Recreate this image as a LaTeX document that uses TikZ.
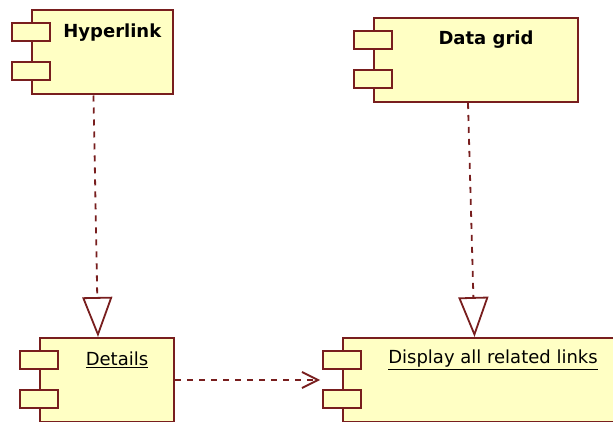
\documentclass[tikz,border=0pt]{standalone}
\usepackage{fontspec}
\setmainfont{DejaVu Sans}
\usetikzlibrary{arrows.meta}

\definecolor{compline}{RGB}{120,30,30}
\definecolor{compfill}{RGB}{255,255,196}

\begin{document}
\begin{tikzpicture}[x=1pt,y=1pt,yscale=-1,
  comp/.style={draw=compline,fill=compfill,line width=2pt,minimum height=84pt,inner sep=0pt,anchor=north west},
  port/.style={draw=compline,fill=compfill,line width=2pt},
  dep/.style={draw=compline,line width=1.8pt,dash pattern={on 6pt off 6pt}},
  compname/.style={font=\fontsize{18}{20}\selectfont,inner sep=0.75pt}]
%set diagram left start at 0, and has height of 422
\useasboundingbox (0,0) rectangle (613,422);
\clip (0,0) rectangle (613,422);

%Shape: Component boxes
\node[comp,minimum width=141pt] (hyperlink) at (31,9.5) {};
\node[comp,minimum width=204pt] (datagrid) at (373,17) {};
\node[comp,minimum width=134pt] (details) at (39,337) {};
\node[comp,minimum width=276pt] (display) at (342,337) {};

%Shape: Component ports
\foreach \c in {hyperlink,datagrid,details,display} {
  \draw[port] ([xshift=-19pt,yshift=14pt]\c.north west) rectangle ++(38,18);
  \draw[port] ([xshift=-19pt,yshift=53pt]\c.north west) rectangle ++(38,18);
}

% Text Node
\node[compname] (hyperlinktext) at ([xshift=10pt,yshift=23.5pt]hyperlink.north) {\textbf{Hyperlink}};
% Text Node
\node[compname] (datagridtext) at ([xshift=10pt,yshift=23pt]datagrid.north) {\textbf{Data grid}};
% Text Node
\node[compname] (detailstext) at ([xshift=10pt,yshift=23pt]details.north) {\underline{Details}};
% Text Node
\node[compname] (displaytext) at ([xshift=12pt,yshift=23pt]display.north) {\underline{Display all related links}};

%Straight Lines: realizations
\draw[dep,-{Triangle[open,length=40pt,width=30pt]}] ([xshift=-9pt]hyperlink.south) -- ([xshift=-9pt]details.north);
\draw[dep,-{Triangle[open,length=40pt,width=30pt]}] ([xshift=-8pt]datagrid.south) -- ([xshift=-6.5pt]display.north);
%Straight Lines: dependency
\draw[dep,-{Straight Barb[length=16pt,width=16pt]}] (details.east) -- ([xshift=-22pt]display.west);

\end{tikzpicture}
\end{document}
